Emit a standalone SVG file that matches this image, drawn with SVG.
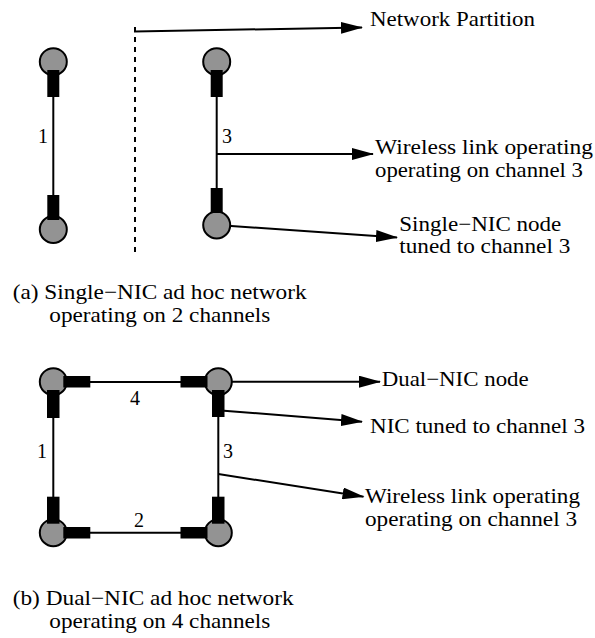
<svg xmlns="http://www.w3.org/2000/svg" width="595" height="638" viewBox="0 0 595 638">
<style>
.node{fill:#939393;stroke:#000;stroke-width:2}
.nic{fill:#000}
.link{stroke:#000;stroke-width:2;fill:none}
.arr{stroke:#000;stroke-width:2;fill:none;marker-end:url(#ah)}
.t{font-family:"Liberation Serif","Times New Roman",serif;font-size:21px;fill:#000}
.n{font-family:"Liberation Serif","Times New Roman",serif;font-size:20px;fill:#000}
</style>
<defs>
<marker id="ah" markerUnits="userSpaceOnUse" markerWidth="22" markerHeight="12" viewBox="0 0 22 12" refX="21" refY="6" orient="auto">
<path d="M0,0 L22,6 L0,12 z" fill="#000"/>
</marker>
</defs>
<rect width="595" height="638" fill="#fff"/>

<g id="connectors">
<line class="link" x1="53.3" y1="96" x2="53.3" y2="196"/>
<line class="link" x1="216.7" y1="96" x2="216.7" y2="189"/>
<line class="link" x1="135" y1="27" x2="135" y2="254" stroke-dasharray="5,5" stroke-width="2.5"/>
<polyline class="arr" points="135,27 135,31.5 362,27.5"/>
<line class="arr" x1="216.7" y1="154" x2="373" y2="154"/>
<line class="arr" x1="217" y1="225" x2="397" y2="237.5"/>

<line class="link" x1="89" y1="382" x2="181" y2="382"/>
<line class="link" x1="89" y1="532.7" x2="181" y2="532.7"/>
<line class="link" x1="53.3" y1="417" x2="53.3" y2="498"/>
<line class="link" x1="218.3" y1="416" x2="218.3" y2="498"/>
<line class="arr" x1="219" y1="381.7" x2="380" y2="381.7"/>
<line class="arr" x1="224" y1="410.7" x2="362" y2="421.7"/>
<line class="arr" x1="218.3" y1="474" x2="363.5" y2="496.7"/>
</g>

<g id="a-node-left-top"><circle class="node" cx="53.3" cy="61.7" r="13.5"/><rect class="nic" x="47.3" y="70" width="12" height="27"/></g>
<g id="a-node-left-bottom"><circle class="node" cx="53.3" cy="229.5" r="13.5"/><rect class="nic" x="47.3" y="195" width="12" height="25"/></g>
<g id="a-node-right-top"><circle class="node" cx="216.7" cy="61.7" r="13.5"/><rect class="nic" x="210.7" y="70" width="12" height="27"/></g>
<g id="a-node-right-bottom"><circle class="node" cx="216.7" cy="225" r="13.5"/><rect class="nic" x="210.7" y="188" width="12" height="25"/></g>

<g id="b-node-tl"><circle class="node" cx="53.3" cy="381.7" r="13.5"/><rect class="nic" x="63.3" y="376" width="27" height="11.5"/><rect class="nic" x="47" y="390" width="12.5" height="28"/></g>
<g id="b-node-tr"><circle class="node" cx="218.3" cy="381.7" r="13.5"/><rect class="nic" x="180.5" y="376" width="27" height="11.5"/><rect class="nic" x="212" y="390" width="12.5" height="27"/></g>
<g id="b-node-bl"><circle class="node" cx="53.3" cy="532.7" r="13.5"/><rect class="nic" x="63.3" y="527" width="27" height="11.5"/><rect class="nic" x="47" y="496.7" width="12.5" height="27"/></g>
<g id="b-node-br"><circle class="node" cx="218.3" cy="532.7" r="13.5"/><rect class="nic" x="180.5" y="527" width="27" height="11.5"/><rect class="nic" x="212" y="496.7" width="12.5" height="27"/></g>

<g id="labels">
<text class="n" x="38" y="143">1</text>
<text class="n" x="222" y="143">3</text>
<text class="n" x="130" y="405">4</text>
<text class="n" x="37" y="458">1</text>
<text class="n" x="223" y="458">3</text>
<text class="n" x="134" y="527">2</text>

<text class="t" x="370" y="26" textLength="165" lengthAdjust="spacingAndGlyphs">Network Partition</text>
<text class="t" x="375" y="154" textLength="218" lengthAdjust="spacingAndGlyphs">Wireless link operating</text>
<text class="t" x="375" y="176.5" textLength="208" lengthAdjust="spacingAndGlyphs">operating on channel 3</text>
<text class="t" x="399.3" y="230.5" textLength="162" lengthAdjust="spacingAndGlyphs">Single−NIC node</text>
<text class="t" x="399.3" y="253" textLength="171" lengthAdjust="spacingAndGlyphs">tuned to channel 3</text>
<text class="t" x="12.7" y="299" textLength="294" lengthAdjust="spacingAndGlyphs">(a) Single−NIC ad hoc network</text>
<text class="t" x="49.3" y="321.5" textLength="221" lengthAdjust="spacingAndGlyphs">operating on 2 channels</text>

<text class="t" x="381.7" y="386" textLength="147" lengthAdjust="spacingAndGlyphs">Dual−NIC node</text>
<text class="t" x="370" y="433" textLength="215" lengthAdjust="spacingAndGlyphs">NIC tuned to channel 3</text>
<text class="t" x="365" y="503" textLength="215" lengthAdjust="spacingAndGlyphs">Wireless link operating</text>
<text class="t" x="365" y="525.5" textLength="212" lengthAdjust="spacingAndGlyphs">operating on channel 3</text>
<text class="t" x="12.7" y="605" textLength="281" lengthAdjust="spacingAndGlyphs">(b) Dual−NIC ad hoc network</text>
<text class="t" x="49.3" y="627.5" textLength="221" lengthAdjust="spacingAndGlyphs">operating on 4 channels</text>
</g>
</svg>
